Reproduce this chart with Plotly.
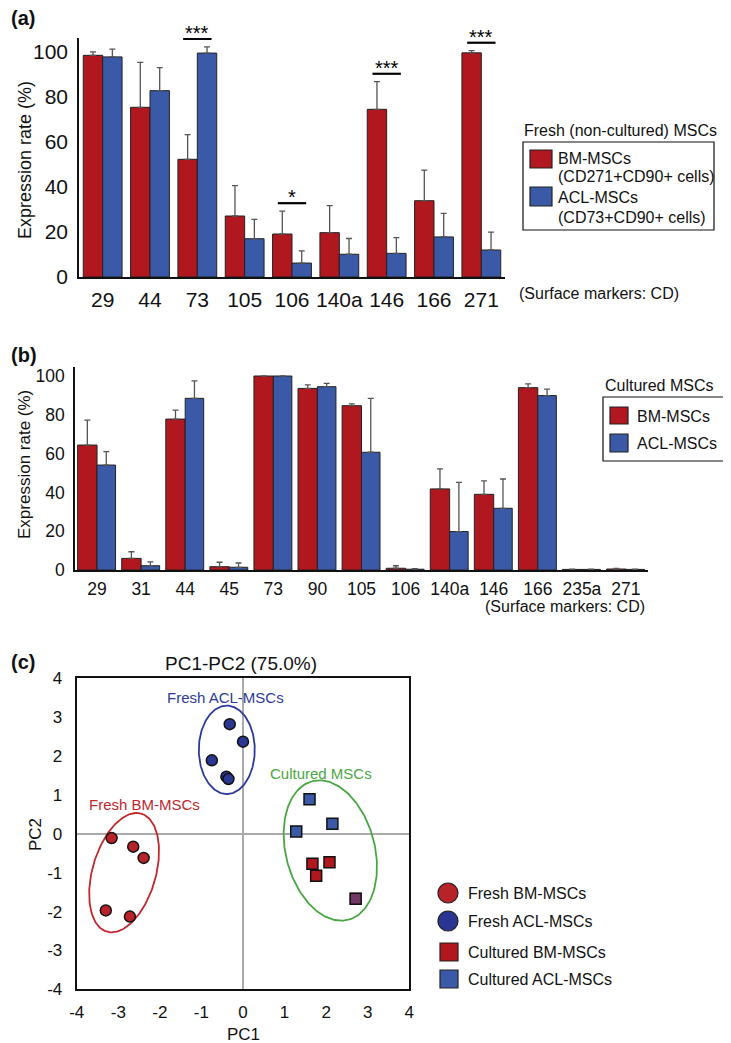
import numpy as np
import plotly.graph_objects as go

# ---- panel (a): fresh (non-cultured) MSCs ----
markers_a = ['29', '44', '73', '105', '106', '140a', '146', '166', '271']
bm_fresh = [98.5, 75.4, 52.3, 27.1, 19.1, 19.7, 74.5, 33.9, 99.6]
bm_fresh_err = [1.5, 20.0, 11.0, 13.5, 10.2, 12.0, 12.3, 13.6, 1.0]
acl_fresh = [97.8, 82.8, 99.5, 17.0, 6.2, 10.1, 10.5, 17.8, 12.0]
acl_fresh_err = [3.5, 10.2, 2.8, 8.6, 5.4, 7.0, 7.0, 10.5, 7.9]
sig_markers = ['73', '106', '146', '271']
sig_labels = ['***', '*', '***', '***']

# ---- panel (b): cultured MSCs ----
markers_b = ['29', '31', '44', '45', '73', '90', '105', '106', '140a', '146', '166', '235a', '271']
bm_cult = [64.4, 6.0, 77.8, 1.7, 100, 93.6, 84.7, 0.9, 41.8, 39.0, 94.0, 0.3, 0.5]
bm_cult_err = [12.9, 3.4, 4.6, 2.3, 0, 1.8, 0.9, 1.3, 10.3, 6.9, 1.9, 0.1, 0.3]
acl_cult = [54.1, 2.2, 88.5, 1.4, 100, 94.5, 60.7, 0.4, 19.8, 31.8, 89.9, 0.3, 0.3]
acl_cult_err = [6.9, 2.0, 9.0, 2.2, 0, 1.7, 27.8, 0.3, 25.4, 15.1, 3.3, 0.1, 0.2]

# ---- panel (c): PCA ----
fresh_bm_pc1 = [-3.16, -2.64, -2.39, -3.30, -2.72]
fresh_bm_pc2 = [-0.11, -0.33, -0.62, -1.97, -2.13]
fresh_acl_pc1 = [-0.32, 0.00, -0.75, -0.40, -0.35]
fresh_acl_pc2 = [2.82, 2.37, 1.89, 1.47, 1.41]
cult_bm_pc1 = [1.67, 2.08, 1.76, 2.71]
cult_bm_pc2 = [-0.77, -0.73, -1.08, -1.67]
cult_acl_pc1 = [1.60, 1.28, 2.15, 2.71]
cult_acl_pc2 = [0.89, 0.06, 0.26, -1.67]
pc_ticks = [-4, -3, -2, -1, 0, 1, 2, 3, 4]
pc_ticktext = ['-4', '-3', '-2', '-1', '0', '1', '2', '3', '4']

RED = '#b0171f'
BLUE = '#3a5aa8'
RED_DOT = '#b8232a'
BLUE_DOT = '#2b3592'
FONT = 'Liberation Sans, Arial, sans-serif'

# the page body has an 8px margin, so the figure is a bit smaller and
# positions below are given in window pixels
PAD = 8
W, H = 731 - PAD, 1043 - PAD


def fx(x):
    return (x - PAD) / W


def fy(y):
    return 1 - (y - PAD) / H


fig = go.Figure()

bar_style = dict(marker_line_color='#222', marker_line_width=1)
err_style = dict(type='data', symmetric=False, color='#555', thickness=1.3, width=3)

fig.add_trace(go.Bar(x=markers_a, y=bm_fresh, width=0.41, offset=-0.41, marker_color=RED,
                     error_y=dict(array=bm_fresh_err, arrayminus=[0] * len(markers_a), **err_style),
                     xaxis='x', yaxis='y', **bar_style))
fig.add_trace(go.Bar(x=markers_a, y=acl_fresh, width=0.41, offset=0, marker_color=BLUE,
                     error_y=dict(array=acl_fresh_err, arrayminus=[0] * len(markers_a), **err_style),
                     xaxis='x', yaxis='y', **bar_style))

fig.add_trace(go.Bar(x=markers_b, y=bm_cult, width=0.44, offset=-0.44, marker_color=RED,
                     error_y=dict(array=bm_cult_err, arrayminus=[0] * len(markers_b), **err_style),
                     xaxis='x2', yaxis='y2', **bar_style))
fig.add_trace(go.Bar(x=markers_b, y=acl_cult, width=0.42, offset=0, marker_color=BLUE,
                     error_y=dict(array=acl_cult_err, arrayminus=[0] * len(markers_b), **err_style),
                     xaxis='x2', yaxis='y2', **bar_style))

# PCA ellipses (center in data units, semi-axes in pixels, angle from horizontal)
pxu_x, pxu_y = 332.7 / 8, 311 / 8


def ellipse(cx, cy, a, b, ang):
    t = np.linspace(0, 2 * np.pi, 200)
    th = np.radians(ang)
    dx = a * np.cos(t) * np.cos(th) - b * np.sin(t) * np.sin(th)
    dy = a * np.cos(t) * np.sin(th) + b * np.sin(t) * np.cos(th)
    return cx + dx / pxu_x, cy + dy / pxu_y


for (cx, cy, a, b, ang, col) in [(-2.86, -1.0, 61.5, 31.7, 73.8, '#c0282e'),
                                 (-0.39, 2.16, 44.2, 28.0, 90, '#2b3a9a'),
                                 (2.10, -0.43, 71.6, 44.5, 104.6, '#4aa642')]:
    ex, ey = ellipse(cx, cy, a, b, ang)
    fig.add_trace(go.Scatter(x=ex, y=ey, mode='lines', line=dict(color=col, width=1.8),
                             xaxis='x3', yaxis='y3', hoverinfo='skip'))

dot = dict(size=11, line=dict(color='#111', width=1.5))
fig.add_trace(go.Scatter(x=fresh_bm_pc1, y=fresh_bm_pc2, mode='markers',
                         marker=dict(color=RED_DOT, symbol='circle', **dot), xaxis='x3', yaxis='y3'))
fig.add_trace(go.Scatter(x=fresh_acl_pc1, y=fresh_acl_pc2, mode='markers',
                         marker=dict(color=BLUE_DOT, symbol='circle', **dot), xaxis='x3', yaxis='y3'))
fig.add_trace(go.Scatter(x=cult_bm_pc1, y=cult_bm_pc2, mode='markers',
                         marker=dict(color=RED, symbol='square', **dot), xaxis='x3', yaxis='y3'))
fig.add_trace(go.Scatter(x=cult_acl_pc1, y=cult_acl_pc2, mode='markers',
                         marker=dict(color=BLUE, symbol='square', opacity=[1, 1, 1, 0.5], **dot),
                         xaxis='x3', yaxis='y3'))

shapes = []
annotations = []

# significance brackets for panel (a)
for m, lab in zip(sig_markers, sig_labels):
    i = markers_a.index(m)
    top = max(bm_fresh[i] + bm_fresh_err[i], acl_fresh[i] + acl_fresh_err[i]) + 3.5
    shapes.append(dict(type='line', xref='x', yref='y', x0=i - 0.3, x1=i + 0.3, y0=top, y1=top,
                       line=dict(color='#000', width=2.2)))
    annotations.append(dict(xref='x', yref='y', x=i, y=top, text=lab, showarrow=False,
                            yanchor='bottom', yshift=-7, font=dict(size=20, color='#000', family=FONT)))


def text(x, y, s, size=16, color='#111', xanchor='left', yanchor='middle', bold=False, angle=0):
    if bold:
        s = '<b>' + s + '</b>'
    annotations.append(dict(xref='paper', yref='paper', x=fx(x), y=fy(y), text=s, showarrow=False,
                            xanchor=xanchor, yanchor=yanchor, textangle=angle,
                            font=dict(size=size, color=color, family=FONT)))


def rect(x0, y0, x1, y1, fill='rgba(0,0,0,0)', lc='#111', lw=1.2, kind='rect'):
    shapes.append(dict(type=kind, xref='paper', yref='paper', x0=fx(x0), x1=fx(x1), y0=fy(y1), y1=fy(y0),
                       fillcolor=fill, line=dict(color=lc, width=lw)))


# panel letters
text(9, 18, '(a)', size=20, bold=True)
text(9, 355, '(b)', size=20, bold=True)
text(9, 662, '(c)', size=20, bold=True)

# axis titles
text(25, 160, 'Expression rate (%)', size=18, xanchor='center', angle=-90)
text(25, 465, 'Expression rate (%)', size=17, xanchor='center', angle=-90)
text(243, 1034, 'PC1', size=17, xanchor='center')
text(35, 835, 'PC2', size=17, xanchor='center', angle=-90)

# legend (a)
text(522, 130, 'Fresh (non-cultured) MSCs')
rect(523, 142, 714, 230)
rect(530, 150, 552, 168, fill=RED, lc='#222')
rect(530, 187, 552, 206, fill=BLUE, lc='#222')
text(556, 159, 'BM-MSCs')
text(556, 177, '(CD271+CD90+ cells)')
text(556, 197, 'ACL-MSCs')
text(556, 217, '(CD73+CD90+ cells)')
text(517, 293, '(Surface markers: CD)')

# legend (b)
text(603, 385, 'Cultured MSCs')
rect(603, 397, 725, 461)
rect(610, 407, 628, 424, fill=RED, lc='#222')
rect(610, 434, 628, 452, fill=BLUE, lc='#222')
text(635, 416, 'BM-MSCs')
text(635, 443, 'ACL-MSCs')
text(565, 606, '(Surface markers: CD)', xanchor='center')

# panel (c) labels
text(241, 663, 'PC1-PC2 (75.0%)', size=19, xanchor='center')
text(225, 697, 'Fresh ACL-MSCs', size=15, color='#2b3a9a', xanchor='center')
text(321, 773, 'Cultured MSCs', size=15, color='#4aa642', xanchor='center')
text(144, 804, 'Fresh BM-MSCs', size=15, color='#c0282e', xanchor='center')

# legend (c)
rect(438, 883, 458, 903, fill=RED_DOT, lc='#222', kind='circle')
rect(438, 911, 458, 931, fill=BLUE_DOT, lc='#222', kind='circle')
rect(440, 943, 458, 961, fill=RED, lc='#222')
rect(440, 970, 458, 988, fill=BLUE, lc='#222')
text(466, 893, 'Fresh BM-MSCs')
text(466, 921, 'Fresh ACL-MSCs')
text(466, 952, 'Cultured BM-MSCs')
text(466, 979, 'Cultured ACL-MSCs')


def axis(size, **kw):
    base = dict(showgrid=False, zeroline=False, showline=True, linecolor='#111', linewidth=1.5,
                ticks='', automargin=False, tickfont=dict(family=FONT, size=size, color='#111'))
    base.update(kw)
    return base


fig.update_layout(
    width=W, height=H, margin=dict(l=0, r=0, t=0, b=0),
    paper_bgcolor='white', plot_bgcolor='white', showlegend=False,
    font=dict(family=FONT, color='#111'),
    barmode='group',
    xaxis=axis(21, domain=[fx(79), fx(505)], anchor='y', range=[-0.5, len(markers_a) - 0.5],
               ticklabelstandoff=3),
    yaxis=axis(21, domain=[fy(277), fy(38)], anchor='x', range=[0, 106.2], tickvals=[0, 20, 40, 60, 80, 100],
               ticklabelstandoff=5),
    xaxis2=axis(17.5, domain=[fx(75), fx(648)], anchor='y2', range=[-0.5, len(markers_b) - 0.5],
                ticklabelstandoff=2),
    yaxis2=axis(17.5, domain=[fy(570), fy(366.7)], anchor='x2', range=[0, 104.8],
                tickvals=[0, 20, 40, 60, 80, 100], ticklabelstandoff=5),
    xaxis3=axis(17, domain=[fx(76.7), fx(409.3)], anchor='y3', range=[-4, 4], mirror=True,
                tickvals=pc_ticks, ticktext=pc_ticktext, ticklabelstandoff=6,
                zeroline=True, zerolinecolor='#aaa', zerolinewidth=1.5, linewidth=2),
    yaxis3=axis(17, domain=[fy(989.3), fy(678.3)], anchor='x3', range=[-4, 4], mirror=True,
                tickvals=pc_ticks, ticktext=pc_ticktext, ticklabelstandoff=9,
                zeroline=True, zerolinecolor='#aaa', zerolinewidth=1.5, linewidth=2),
    shapes=shapes, annotations=annotations,
)

fig.write_html('out.html')
